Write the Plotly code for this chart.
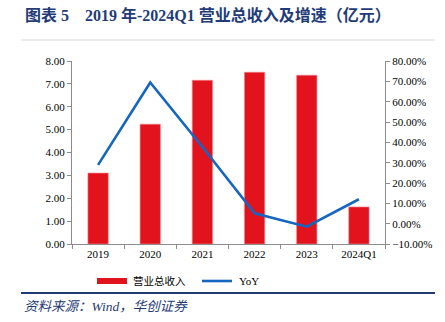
import plotly.graph_objects as go

categories = ["2019", "2020", "2021", "2022", "2023", "2024Q1"]
revenue = [3.10, 5.24, 7.16, 7.51, 7.38, 1.62]
yoy_pct = [28.9, 69.4, 37.7, 5.1, -1.5, 12.0]
left_ticks = [0, 1, 2, 3, 4, 5, 6, 7, 8]
right_ticks = [-10, 0, 10, 20, 30, 40, 50, 60, 70, 80]

title_text = "图表 5\u00a0\u00a0\u00a0\u00a02019 年-2024Q1 营业总收入及增速（亿元）"
source_text = "资料来源：Wind，华创证券"
legend_bar = "营业总收入"
legend_line = "YoY"

FONT = "Liberation Serif, Noto Sans CJK SC, serif"
RED = "#E3131E"
BLUE = "#1466C0"
NAVY = "#1F3C78"

L, R, T, B = 72, 60, 61, 78
W, H = 445, 322
PW, PH = W - L - R, H - T - B


def px(x):
    return (x - L) / PW


def py(y):
    return (H - B - y) / PH


fig = go.Figure()
fig.add_trace(go.Bar(x=categories, y=revenue, marker=dict(color=RED, line=dict(color="#F08A8F", width=0.6)),
                     width=0.39, name=legend_bar, yaxis="y"))
fig.add_trace(go.Scatter(x=categories, y=[v / 100 for v in yoy_pct], mode="lines",
                         line=dict(color=BLUE, width=2.6), name=legend_line, yaxis="y2"))

axis_common = dict(showgrid=False, zeroline=False, showline=True, linecolor="#8C8C8C", linewidth=1,
                   ticks="outside", ticklen=4, tickcolor="#8C8C8C",
                   tickfont=dict(family=FONT, size=11, color="#000"))

fig.update_layout(
    width=W, height=H, margin=dict(l=L, r=R, t=T, b=B),
    paper_bgcolor="white", plot_bgcolor="white", showlegend=False,
    bargap=0.6,
    xaxis=dict(**axis_common, tickson="boundaries", type="category"),
    yaxis=dict(**axis_common, range=[0, 8], tickvals=left_ticks, tickformat=".2f"),
    yaxis2=dict(**axis_common, range=[-0.1, 0.8], tickvals=[v / 100 for v in right_ticks],
                tickformat=".2%", overlaying="y", side="right"),
)

shapes = [
    dict(type="line", xref="paper", yref="paper", x0=px(21), x1=px(435), y0=py(40), y1=py(40),
         line=dict(color="#D9D9D9", width=1)),
    dict(type="line", xref="paper", yref="paper", x0=px(21), x1=px(435), y0=py(293), y1=py(293),
         line=dict(color=NAVY, width=2)),
    dict(type="rect", xref="paper", yref="paper", x0=px(97), x1=px(127), y0=py(284), y1=py(278),
         fillcolor=RED, line=dict(width=0)),
    dict(type="line", xref="paper", yref="paper", x0=px(202), x1=px(232), y0=py(281), y1=py(281),
         line=dict(color=BLUE, width=2.6)),
]
annotations = [
    dict(text="<b>" + title_text + "</b>", xref="paper", yref="paper", x=px(23), y=py(15),
         xanchor="left", yanchor="middle", showarrow=False,
         font=dict(family=FONT, size=16, color=NAVY)),
    dict(text=legend_bar, xref="paper", yref="paper", x=px(131), y=py(281),
         xanchor="left", yanchor="middle", showarrow=False,
         font=dict(family=FONT, size=10.5, color="#000")),
    dict(text=legend_line, xref="paper", yref="paper", x=px(237), y=py(281),
         xanchor="left", yanchor="middle", showarrow=False,
         font=dict(family=FONT, size=11, color="#000")),
    dict(text="<i>" + source_text + "</i>", xref="paper", yref="paper", x=px(22), y=py(306),
         xanchor="left", yanchor="middle", showarrow=False,
         font=dict(family=FONT, size=13.5, color=NAVY)),
]
fig.update_layout(shapes=shapes, annotations=annotations)

fig.write_html("out.html")
